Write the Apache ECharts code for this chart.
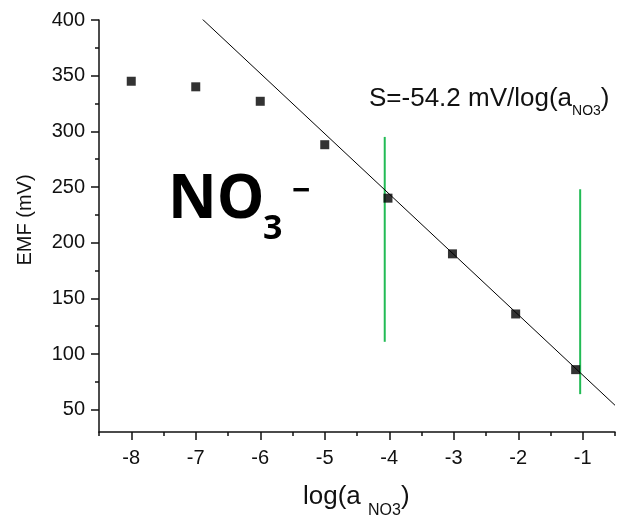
<!DOCTYPE html>
<html>
<head>
<meta charset="utf-8">
<script src="https://cdn.jsdelivr.net/npm/echarts@6/dist/echarts.min.js"></script>
<style>
  html, body { margin: 0; padding: 0; background: #fff; }
  #chart { width: 618px; height: 520px; }
</style>
</head>
<body>
<div id="chart"></div>
<script>
// Nitrate electrode calibration: EMF versus log activity
const logA = [-8, -7, -6, -5, -4.02, -3.02, -2.04, -1.11];
const emf = [345, 340, 327, 288, 240, 190, 136, 86];

// Nernstian fit of the linear range
const slope = -54.2;
const intercept = 26.9;
const fitRange = [-6.9, -0.5];

// Limits of the linear response range (vertical markers)
const limitX = [-4.07, -1.04];
const limitLow = [111, 64];
const limitHigh = [295, 248];

// Axis ticks
const xMajorTicks = [-8, -7, -6, -5, -4, -3, -2, -1];
const xMinorTicks = [-8.5, -7.5, -6.5, -5.5, -4.5, -3.5, -2.5, -1.5, -0.5];
const yMajorTicks = [50, 100, 150, 200, 250, 300, 350, 400];
const yMinorTicks = [75, 125, 175, 225, 275, 325, 375];

const xRange = [-8.5, -0.5];
const yRange = [30, 400];

const FONT = '"Liberation Sans", Arial, sans-serif';
const BOLD = '"Open Sans", "Noto Sans", sans-serif';
const INK = '#111';
const GREEN = '#22bb55';

const chart = echarts.init(document.getElementById('chart'), null, { renderer: 'canvas' });

const axisLineStyle = { color: INK, width: 1.5 };

function xAxisDef(ticks, len, withLine, withLabels) {
  return {
    type: 'value', min: xRange[0], max: xRange[1], position: 'bottom',
    axisLine: { show: withLine, onZero: false, lineStyle: axisLineStyle },
    axisTick: { show: true, customValues: ticks, length: len, lineStyle: axisLineStyle },
    axisLabel: withLabels
      ? { show: true, customValues: ticks, margin: 16, color: INK, fontSize: 20, fontFamily: FONT }
      : { show: false },
    splitLine: { show: false }
  };
}
function yAxisDef(ticks, len, withLine, withLabels) {
  return {
    type: 'value', min: yRange[0], max: yRange[1], position: 'left',
    axisLine: { show: withLine, onZero: false, lineStyle: axisLineStyle },
    axisTick: { show: true, customValues: ticks, length: len, lineStyle: axisLineStyle },
    axisLabel: withLabels
      ? { show: true, customValues: ticks, margin: 14, color: INK, fontSize: 20, fontFamily: FONT }
      : { show: false },
    splitLine: { show: false }
  };
}

const limitSeries = limitX.map((x, i) => ({
  type: 'line',
  xAxisIndex: 0, yAxisIndex: 0,
  data: [[x, limitLow[i]], [x, limitHigh[i]]],
  showSymbol: false, symbol: 'none',
  lineStyle: { color: GREEN, width: 2 },
  z: 3
}));

const option = {
  animation: false,
  backgroundColor: '#fff',
  grid: { left: 99, right: 3, top: 20, bottom: 88, containLabel: false },
  xAxis: [
    xAxisDef(xMinorTicks, 4, true, false),
    xAxisDef(xMajorTicks, 8, false, true)
  ],
  yAxis: [
    yAxisDef(yMinorTicks, 4, true, false),
    yAxisDef(yMajorTicks, 8, false, true)
  ],
  series: [
    ...limitSeries,
    {
      type: 'line',
      xAxisIndex: 0, yAxisIndex: 0,
      data: fitRange.map(x => [x, intercept + slope * x]),
      showSymbol: false, symbol: 'none',
      lineStyle: { color: '#000', width: 1 },
      clip: true,
      z: 4
    },
    {
      type: 'scatter',
      xAxisIndex: 0, yAxisIndex: 0,
      data: logA.map((x, i) => [x, emf[i]]),
      symbol: 'rect', symbolSize: 9,
      itemStyle: { color: '#000' },
      z: 5
    }
  ],
  graphic: [
    {
      type: 'text', left: 369, top: 86,
      style: {
        text: '{m|S=' + slope + ' mV/log(a}{s|NO3}{m|)}',
        rich: {
          m: { fontSize: 26, fontFamily: FONT, fill: INK, lineHeight: 26, padding: [0, 0, 6, 0], verticalAlign: 'bottom' },
          s: { fontSize: 14, fontFamily: FONT, fill: INK, lineHeight: 14, verticalAlign: 'bottom' }
        }
      }
    },
    {
      type: 'text', left: 168, top: 171,
      style: { text: 'NO', font: 'bold 60px ' + BOLD, fill: '#000' }
    },
    {
      type: 'text', left: 263, top: 212,
      style: { text: '3', font: 'bold 34px ' + BOLD, fill: '#000' }
    },
    {
      type: 'text', left: 292, top: 176,
      style: { text: '\u2212', font: 'bold 32px ' + BOLD, fill: '#000' }
    },
    {
      type: 'text', left: 303, top: 484,
      style: {
        text: '{m|log(a }{s|NO3}{m|)}',
        rich: {
          m: { fontSize: 26, fontFamily: FONT, fill: INK, lineHeight: 26, padding: [0, 0, 9, 0], verticalAlign: 'bottom' },
          s: { fontSize: 16, fontFamily: FONT, fill: INK, lineHeight: 16, verticalAlign: 'bottom' }
        }
      }
    },
    {
      type: 'text', x: 25, y: 220, rotation: Math.PI / 2,
      style: { text: 'EMF (mV)', font: '20px ' + FONT, fill: INK, align: 'center', verticalAlign: 'middle' }
    }
  ]
};

chart.setOption(option);
</script>
</body>
</html>
